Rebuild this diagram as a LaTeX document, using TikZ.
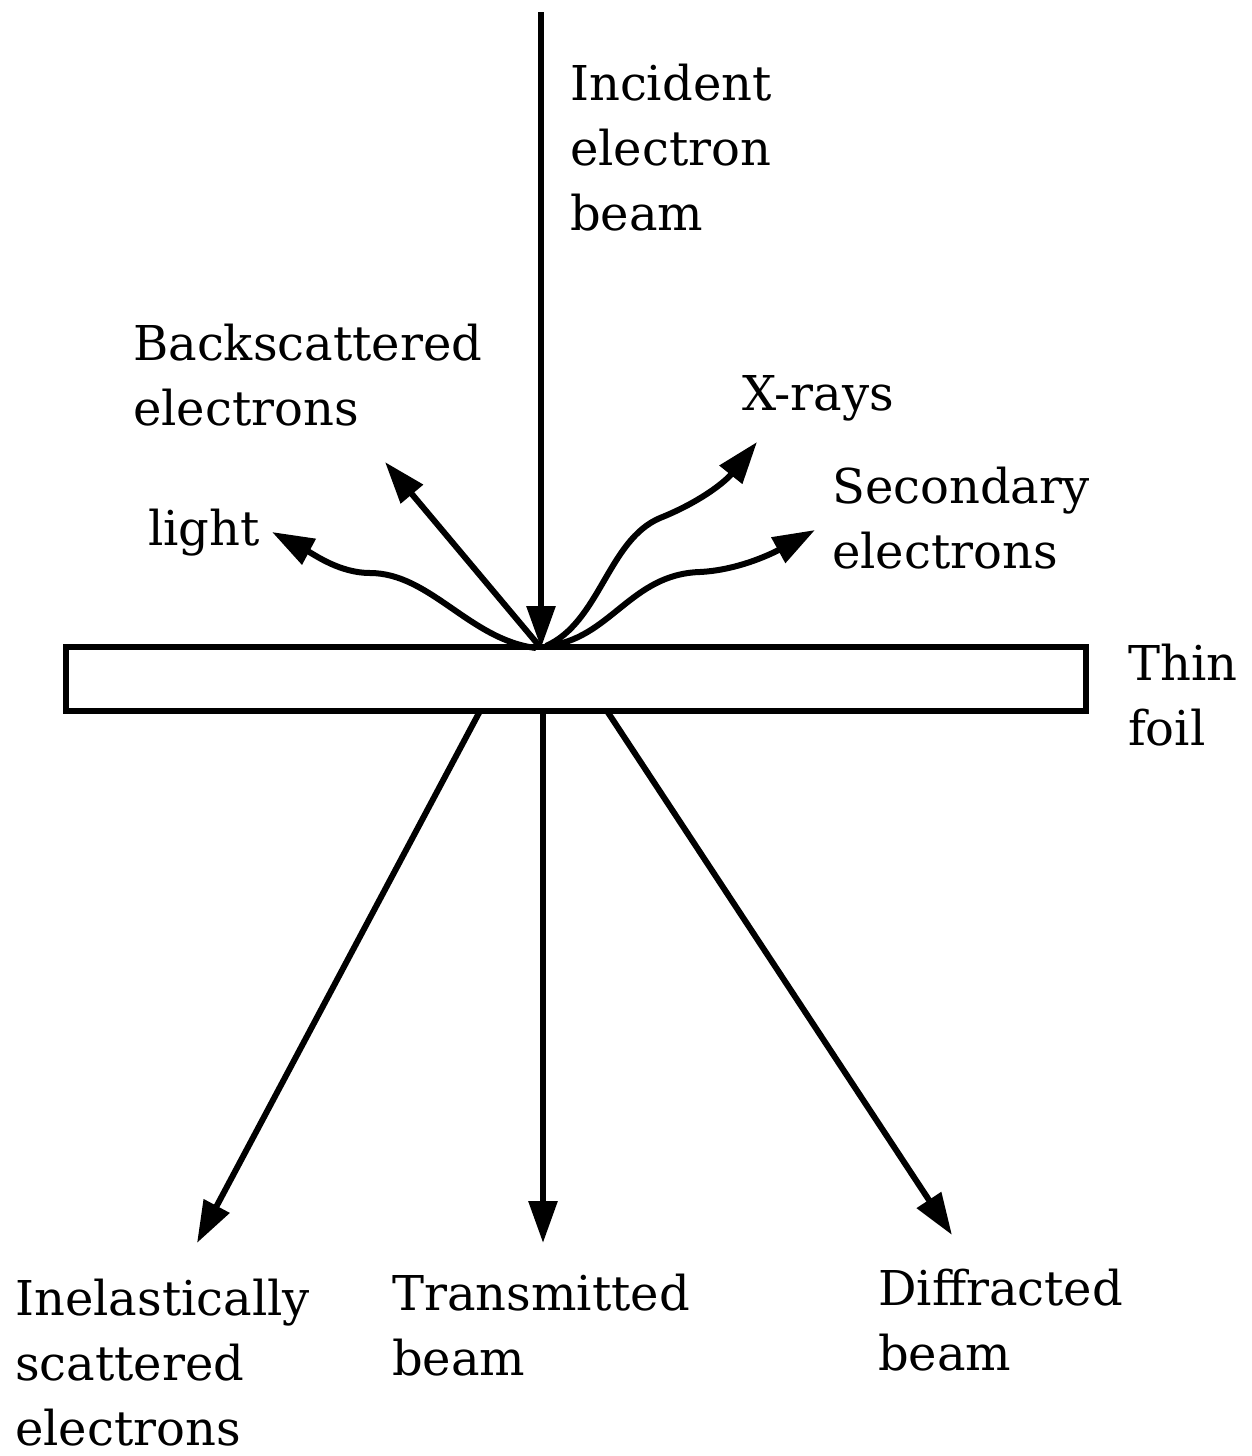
\documentclass[tikz,border=0pt]{standalone}
\usepackage{fontspec}
\setmainfont{DejaVu Serif}
\usetikzlibrary{arrows.meta}
\begin{document}
\begin{tikzpicture}[x=1pt,y=-1pt,
  lbl/.style={anchor=base west,inner sep=0pt,align=left,font=\fontsize{48}{65}\selectfont},
  ray/.style={line width=6pt,-{Triangle[length=42pt,width=28pt]}},
  foilbox/.style={draw,line width=6pt,minimum width=1020pt,minimum height=64pt,inner sep=0pt}]
\useasboundingbox (0,0) rectangle (1251,1456);
\node[foilbox] (foil) at (576,679) {};
\coordinate (src) at (541,12);
\coordinate (hit) at (541,648);
\coordinate (hitL) at (536,648);
\coordinate (hitR) at (546,646);
\coordinate (bsc) at (385,462);
\coordinate (lgt) at (272,532);
\coordinate (xr) at (757,442);
\coordinate (sec) at (815,530);
\coordinate (inA) at (480,711);
\coordinate (inB) at (197,1243);
\coordinate (trA) at (543,711);
\coordinate (trB) at (543,1243);
\coordinate (dfA) at (607,711);
\coordinate (dfB) at (952,1235);
\draw[ray] (src) -- (hit);
\draw[ray] (hit) -- (bsc);
\draw[ray] (hitL) .. controls (470,640) and (430,573) .. (370,573)
  .. controls (340,573) and (315,555) .. (lgt);
\draw[ray] (hitR) .. controls (600,622) and (608,540) .. (660,518)
  .. controls (700,502) and (725,482) .. (xr);
\draw[ray] (hitR) .. controls (610,640) and (630,574) .. (700,572)
  .. controls (740,570) and (775,552) .. (sec);
\draw[ray] (inA) -- (inB);
\draw[ray] (trA) -- (trB);
\draw[ray] (dfA) -- (dfB);
\node[lbl] (tInc) at (570,230) {Incident\\electron\\beam};
\node[lbl] (tBsc) at (133,425) {Backscattered\\electrons};
\node[lbl] (tXr) at (742,410) {X-rays};
\node[lbl] (tSec) at (832,568) {Secondary\\electrons};
\node[lbl] (tLgt) at (148,545) {light};
\node[lbl] (tFoil) at (1128,745) {Thin\\foil};
\node[lbl] (tIne) at (15,1445) {Inelastically\\scattered\\electrons};
\node[lbl] (tTr) at (392,1375) {Transmitted\\beam};
\node[lbl] (tDf) at (878,1370) {Diffracted\\beam};
\end{tikzpicture}
\end{document}
